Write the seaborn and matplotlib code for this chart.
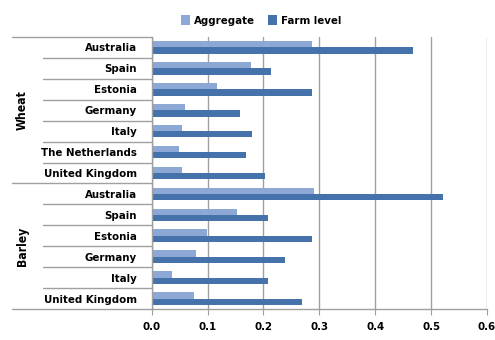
import pandas as pd
import matplotlib
matplotlib.use('Agg')
import matplotlib.pyplot as plt
import matplotlib.transforms as mtransforms
import seaborn as sns

# chart data
crops = ['Wheat'] * 7 + ['Barley'] * 6
countries = ['Australia', 'Spain', 'Estonia', 'Germany', 'Italy', 'The Netherlands', 'United Kingdom',
             'Australia', 'Spain', 'Estonia', 'Germany', 'Italy', 'United Kingdom']
aggregate = [0.287, 0.177, 0.117, 0.060, 0.055, 0.049, 0.055,
             0.290, 0.153, 0.099, 0.079, 0.036, 0.075]
farm_level = [0.468, 0.213, 0.287, 0.158, 0.179, 0.169, 0.203,
              0.522, 0.209, 0.286, 0.239, 0.209, 0.269]
x_ticks = [0.0, 0.1, 0.2, 0.3, 0.4, 0.5, 0.6]
measures = ['Aggregate', 'Farm level']
colors = ['#8DA8D4', '#4672AC']

# long format table, unique key per row since country names repeat
keys = [c + '|' + n for c, n in zip(crops, countries)]
df = pd.DataFrame({
    'key': keys * 2,
    'value': aggregate + farm_level,
    'measure': [measures[0]] * len(keys) + [measures[1]] * len(keys),
})

sns.set_style('white')
plt.rcParams['font.family'] = ['DejaVu Sans']
plt.rcParams['font.stretch'] = 'condensed'
plt.rcParams['font.weight'] = 'bold'
plt.rcParams['text.color'] = 'black'
plt.rcParams['xtick.labelcolor'] = 'black'
plt.rcParams['ytick.labelcolor'] = 'black'
fs = 8.2

W, H = 495, 340
fig = plt.figure(figsize=(W / 100, H / 100), dpi=100)
left, right, top, bottom = 151.7, 487, 37, 309
ax = fig.add_axes([left / W, 1 - bottom / H, (right - left) / W, (bottom - top) / H])

sns.barplot(data=df, y='key', x='value', hue='measure', order=keys, hue_order=measures,
            palette=colors, width=0.6, saturation=1, orient='h', linewidth=0, ax=ax)

ax.set_xlim(0, 0.6)
ax.set_ylim(len(keys) - 0.5, -0.5)
ax.set_xticks(x_ticks)
ax.set_xticklabels(['%.1f' % t for t in x_ticks], fontsize=fs, fontweight='bold')
ax.set_yticks(range(len(keys)))
ax.set_yticklabels(countries, fontsize=fs, fontweight='bold')
ax.tick_params(axis='y', length=0, pad=10.5)
ax.tick_params(axis='x', length=4, color='#A0A0A0', direction='out', pad=5, bottom=True)
ax.set_xlabel('')
ax.set_ylabel('')

ax.xaxis.grid(True, color='#A0A0A0', linewidth=1)
ax.yaxis.grid(False)
ax.set_axisbelow(True)
for s in ['top', 'right']:
    ax.spines[s].set_visible(False)
for s in ['left', 'bottom']:
    ax.spines[s].set_visible(True)
    ax.spines[s].set_color('#A0A0A0')
    ax.spines[s].set_linewidth(1)

# multi-level category axis lines
trans = mtransforms.blended_transform_factory(ax.transAxes, ax.transData)
row_x0 = (43 - left) / (right - left)
grp_x0 = (12 - left) / (right - left)
group_edges = [-0.5, 6.5, 12.5]
for i in range(len(keys) + 1):
    y = i - 0.5
    x0 = grp_x0 if y in group_edges else row_x0
    ax.plot([x0, 0], [y, y], color='#A0A0A0', linewidth=1, transform=trans, clip_on=False)
ax.text((22 - left) / (right - left), 3, 'Wheat', rotation=90, ha='center', va='center',
        fontsize=fs + 0.5, fontweight='bold', transform=trans)
ax.text((22 - left) / (right - left), 9.5, 'Barley', rotation=90, ha='center', va='center',
        fontsize=fs + 0.5, fontweight='bold', transform=trans)

sns.move_legend(ax, 'upper center', bbox_to_anchor=(261 / W, 1 - 5 / H),
                bbox_transform=fig.transFigure, ncol=2, frameon=False, title=None,
                handlelength=0.8, handleheight=1.0, handletextpad=0.3, columnspacing=1.2,
                fontsize=fs)

fig.savefig('out.png', dpi=100)
